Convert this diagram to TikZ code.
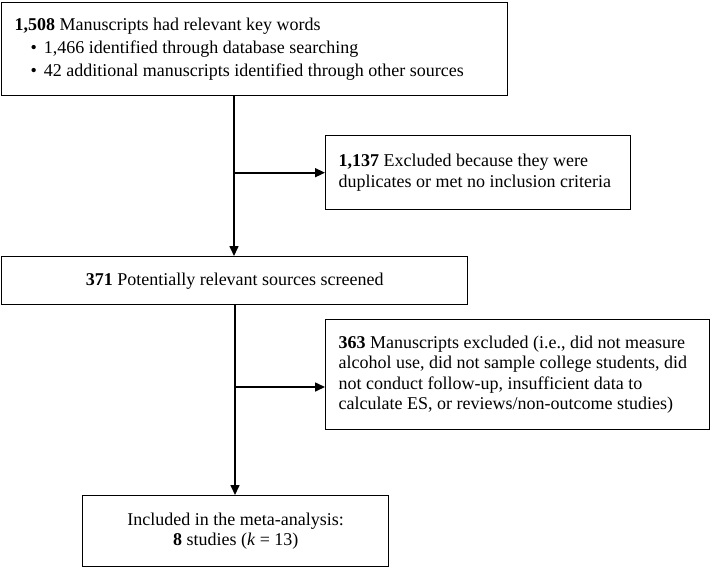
\documentclass[tikz,border=0pt]{standalone}
\usepackage{fontspec}
\setmainfont{Liberation Serif}
\usetikzlibrary{arrows.meta}
\newcommand{\lefttext}[2]{\makebox[#1][l]{\begin{tabular}{@{}l@{}}#2\end{tabular}}}
\begin{document}
\begin{tikzpicture}[x=1pt,y=-1pt,
  box/.style={draw, line width=1.4pt, inner ysep=0pt, inner xsep=13pt, font=\fontsize{18}{20.5}\selectfont},
  flow/.style={line width=1.6pt, -{Triangle[length=10pt,width=9pt]}}]
\useasboundingbox (0,0) rectangle (711,573);
\node[box, anchor=north west, minimum width=506pt, minimum height=93pt,
      font=\fontsize{18}{23}\selectfont] (src) at (1,2)
  {\lefttext{480pt}{\textbf{1,508} Manuscripts had relevant key words\\
   \hspace*{16pt}\textbullet\hspace{7pt}1,466 identified through database searching\\
   \hspace*{16pt}\textbullet\hspace{7pt}42 additional manuscripts identified through other sources}};
\node[box, anchor=north west, minimum width=305pt, minimum height=74pt] (exa) at (325,135)
  {\lefttext{279pt}{\textbf{1,137} Excluded because they were\\duplicates or met no inclusion criteria}};
\node[box, anchor=north west, minimum width=466pt, minimum height=48pt, align=center] (scr) at (1,256)
  {\textbf{371} Potentially relevant sources screened};
\node[box, anchor=north west, minimum width=384pt, minimum height=110pt] (exb) at (325,319)
  {\lefttext{358pt}{\textbf{363} Manuscripts excluded (i.e., did not measure\\alcohol use, did not sample college students, did\\not conduct follow-up, insufficient data to\\calculate ES, or reviews/non-outcome studies)}};
\node[box, anchor=north west, minimum width=306pt, minimum height=71pt, align=center] (inc) at (82,495)
  {Included in the meta-analysis:\\\textbf{8} studies (\textit{k} = 13)};
\coordinate (va) at (234,0);
\coordinate (vb) at (235,0);
\coordinate (jb) at (0,387);
\draw[flow] (src.south -| va) -- (scr.north -| va);
\draw[flow] (exa.west -| va) -- (exa.west);
\draw[flow] (scr.south -| vb) -- (inc.north -| vb);
\draw[flow] (jb -| vb) -- (jb -| exb.west);
\end{tikzpicture}
\end{document}
